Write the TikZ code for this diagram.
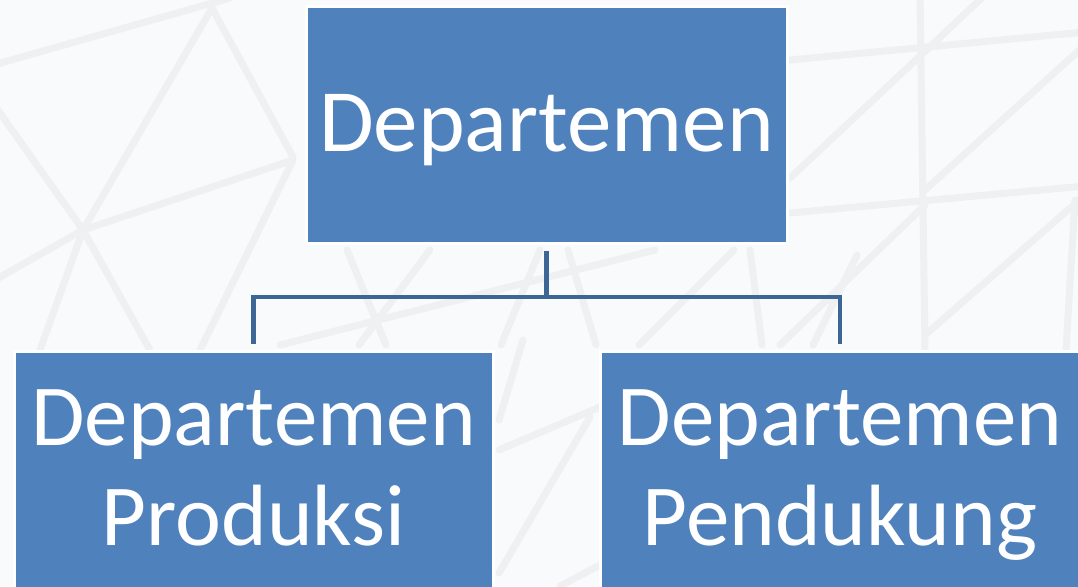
\documentclass[tikz,border=0pt]{standalone}
\usepackage{fontspec}
\setmainfont{Carlito}
\usetikzlibrary{calc}
\definecolor{deptblue}{HTML}{4F81BD}
\definecolor{linkblue}{HTML}{3C6695}
\definecolor{slidebg}{HTML}{F8FAFC}
\definecolor{latticegray}{HTML}{EFF0F2}
\tikzset{
  dept/.style={rectangle, fill=deptblue, draw=white, line width=3pt,
    text=white, inner sep=0pt, align=center},
  link/.style={draw=linkblue, line width=4.5pt},
  lattice/.style={latticegray, line width=7pt, line cap=round, line join=round}
}
% invisible rule that fixes height and depth of one text line
\newcommand{\deptstrut}[1]{\rule[-#1]{0pt}{100pt}}

\begin{document}
\begin{tikzpicture}[x=1pt,y=-1pt]

  % slide background
  \fill[slidebg] (0,0) rectangle (1078,586);
  \useasboundingbox (0,0) rectangle (1078,586);
  \begin{scope}
    \clip (0,0) rectangle (1078,586);

    % faint lattice, left part
    \draw[lattice]
      (-10,66) -- (230,-2)
      (212,8) -- (83,230) -- (40,350)
      (212,8) -- (293,157)
      (-5,106) -- (83,230) -- (150,350)
      (-5,280) -- (83,230) -- (293,160) -- (200,350);

    % faint lattice, middle part
    \draw[lattice]
      (347,250) -- (386,345)
      (430,250) -- (359,345)
      (280,345) -- (655,250)
      (568,250) -- (596,345)
      (540,250) -- (501,345)
      (750,250) -- (762,345)
      (734,250) -- (639,345)
      (857,255) -- (813,345)
      (523,340) -- (499,420)
      (499,450) -- (600,407)
      (590,417) -- (499,573)
      (560,586) -- (600,565);

    % faint lattice, right part
    \draw[lattice]
      (920,-5) -- (925,350)
      (790,60) -- (1085,32)
      (790,213) -- (1085,186)
      (790,178) -- (985,-5)
      (925,190) -- (1085,45)
      (780,345) -- (925,205)
      (925,335) -- (1085,195)
      (1075,200) -- (1066,350);

    % departments
    \node[dept, minimum width=481pt, minimum height=237pt,
      font=\fontsize{89}{100}\selectfont] (dept) at (546.5,125)
      {Departemen\deptstrut{24pt}};
    \node[dept, minimum width=479pt, minimum height=250pt,
      font=\fontsize{87}{100}\selectfont] (prod) at (253.5,476)
      {Departemen\deptstrut{31pt}\\Produksi\deptstrut{31pt}};
    \node[dept, minimum width=479pt, minimum height=250pt,
      font=\fontsize{87}{100}\selectfont] (supp) at (840,476)
      {Departemen\deptstrut{31pt}\\Pendukung\deptstrut{31pt}};

    % connectors
    \coordinate (bus) at (546.5,297);
    \draw[link, shorten <=6pt] (dept.south) -- (bus);
    \draw[link, shorten >=6pt] (bus) -| (prod.north);
    \draw[link, shorten >=6pt] (bus) -| (supp.north);
  \end{scope}

\end{tikzpicture}
\end{document}
